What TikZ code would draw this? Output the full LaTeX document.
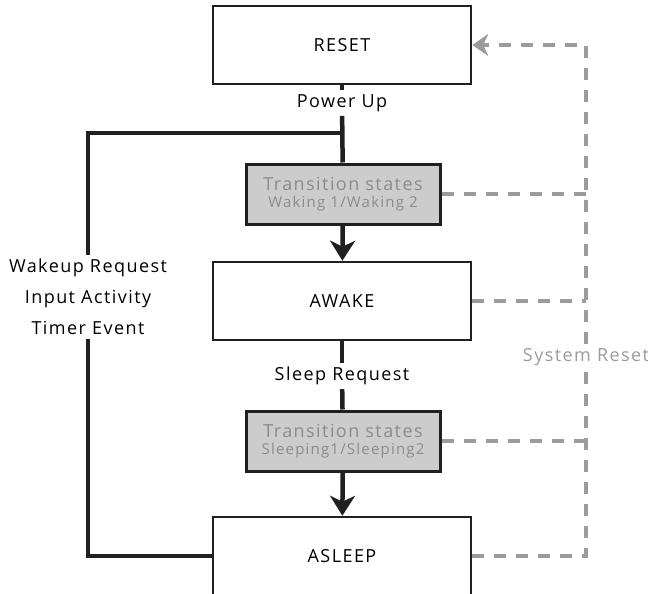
\documentclass[tikz,border=0pt]{standalone}
\usepackage{fontspec}
\setmainfont{Open Sans}[LetterSpace=8]
\usetikzlibrary{arrows.meta}

\definecolor{ink}{RGB}{35,31,32}
\definecolor{fade}{RGB}{155,155,155}
\definecolor{dimtext}{RGB}{140,140,140}
\definecolor{shade}{RGB}{204,204,204}

\tikzset{
  state/.style={draw=ink, line width=2.5pt, fill=white, minimum width=258pt,
    minimum height=78pt, font=\fontsize{18}{20}\selectfont},
  trans/.style={draw=ink, line width=3pt, fill=shade, minimum width=194pt,
    minimum height=60pt, text=dimtext, align=center, inner sep=2pt,
    font=\fontsize{18}{19}\selectfont},
  lbl/.style={font=\fontsize{18}{20}\selectfont, inner sep=4pt},
  flow/.style={draw=ink, line width=4.5pt},
  sysline/.style={draw=fade, line width=4pt, dash pattern=on 12pt off 10pt},
}

\begin{document}
\begin{tikzpicture}[x=1pt, y=-1pt]
\useasboundingbox (0,0) rectangle (648,594);

% the states
\node[state] (reset) at (342,45) {RESET};
\node[trans] (waking) at (343,194) {Transition states\\[-2pt]{\fontsize{15}{16}\selectfont Waking 1/Waking 2}};
\node[state] (awake) at (342,301) {AWAKE};
\node[trans] (sleeping) at (343,441) {Transition states\\[-2pt]{\fontsize{15}{16}\selectfont Sleeping1/Sleeping2}};
\node[state] (asleep) at (342,556) {ASLEEP};

% labels
\node[lbl] (powerup) at (342,103) {Power Up};
\node[lbl] (sleepreq) at (342,376) {Sleep Request};
\node[lbl, align=center] (wakeup) at (88,297) {Wakeup Request\\[11pt]Input Activity\\[11pt]Timer Event};
\node[lbl, text=fade] (sysreset) at (586,357) {System Reset};

\coordinate (join) at (342,133);

% main flow
\draw[flow] (reset) -- (powerup);
\draw[flow] (powerup) -- (waking);
\draw[flow, -{Stealth[length=20pt, width=25pt, inset=6pt]}] (waking) -- (awake);
\draw[flow] (awake) -- (sleepreq);
\draw[flow] (sleepreq) -- (sleeping);
\draw[flow, -{Stealth[length=20pt, width=25pt, inset=6pt]}] (sleeping) -- (asleep);

% wakeup loop
\draw[flow] (asleep.west) -| (wakeup.south);
\draw[flow] (wakeup.north) |- (join);

% system reset
\draw[sysline, -{Stealth[length=16pt, width=22pt, inset=5pt]}] (sysreset.north) |- (reset.east);
\draw[sysline] (asleep.east) -| (sysreset.south);
\draw[sysline] (waking.east) -- (waking.east -| sysreset);
\draw[sysline] (awake.east) -- (awake.east -| sysreset);
\draw[sysline] (sleeping.east) -- (sleeping.east -| sysreset);
\end{tikzpicture}
\end{document}
